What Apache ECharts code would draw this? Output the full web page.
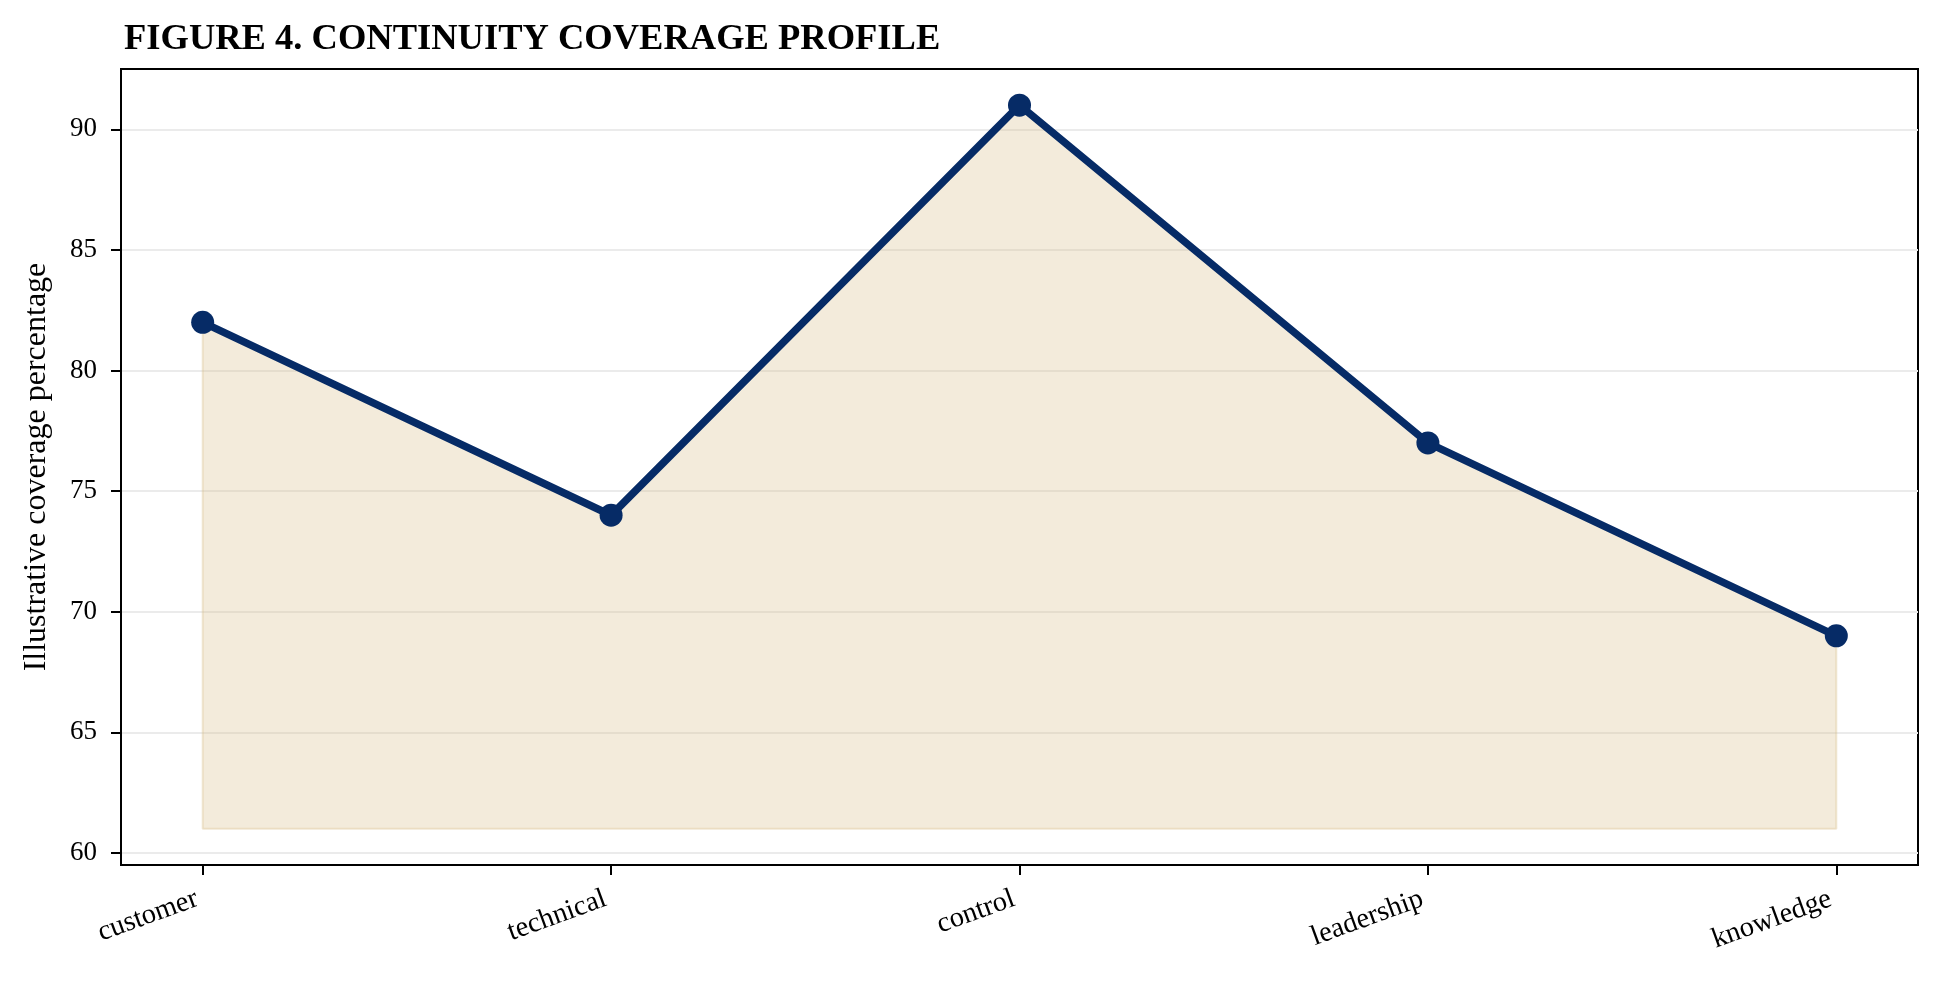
<!DOCTYPE html>
<html lang="en">
<head>
    <meta charset="UTF-8">
    <title>Figure 4. Continuity coverage profile</title>
    <script src="https://cdn.jsdelivr.net/npm/echarts@6/dist/echarts.min.js"></script>
    <style>
        html, body { margin: 0; padding: 0; background: #fff; }
        #main_1 { width: 1940px; height: 983px; }
    </style>
</head>
<body>
<div id="main_1"></div>
<script>
    // chart data
    var categories = ['customer', 'technical', 'control', 'leadership', 'knowledge'];
    var coverage = [82, 74, 91, 77, 69];
    var fillBase = 61;
    var yTicks = [60, 65, 70, 75, 80, 85, 90];
    var xTicks = [0, 1, 2, 3, 4];

    var font = '"Liberation Serif", "Times New Roman", serif';

    var points = [];
    coverage.forEach(function (v, i) {
        points.push([i, v]);
    });

    // outline of the shaded band (sides + baseline), like fill_between's edge
    var last = coverage.length - 1;
    var fillEdge = [
        [0, coverage[0]],
        [0, fillBase],
        [last, fillBase],
        [last, coverage[last]]
    ];

    var myChart = echarts.init(document.getElementById('main_1'));

    var option = {
        animation: false,
        backgroundColor: '#fff',
        title: {
            text: 'FIGURE 4. CONTINUITY COVERAGE PROFILE',
            left: 119,
            top: 16,
            textStyle: {
                fontFamily: font,
                fontWeight: 'bold',
                fontSize: 36.5,
                color: '#000'
            }
        },
        grid: {
            left: 121,
            right: 22,
            top: 69,
            bottom: 118,
            show: true,
            borderColor: '#000',
            borderWidth: 2,
            backgroundColor: 'transparent'
        },
        xAxis: {
            type: 'value',
            min: -0.2,
            max: 4.2,
            splitLine: { show: false },
            axisLine: { show: true, onZero: false, lineStyle: { color: '#000', width: 2 } },
            axisTick: {
                show: true,
                length: 10,
                customValues: xTicks,
                lineStyle: { color: '#000', width: 2 }
            },
            axisLabel: {
                customValues: xTicks,
                rotate: 20,
                margin: 31,
                padding: [0, 6, 0, 0],
                fontFamily: font,
                fontSize: 28.5,
                color: '#000',
                formatter: function (v) { return categories[v]; }
            }
        },
        yAxis: {
            type: 'value',
            min: 59.5,
            max: 92.5,
            name: 'Illustrative coverage percentage',
            nameLocation: 'middle',
            nameGap: 68,
            nameTextStyle: {
                fontFamily: font,
                fontSize: 32,
                color: '#000'
            },
            axisLine: { show: true, onZero: false, lineStyle: { color: '#000', width: 2 } },
            axisTick: {
                show: true,
                length: 10,
                customValues: yTicks,
                lineStyle: { color: '#000', width: 2 }
            },
            axisLabel: {
                customValues: yTicks,
                margin: 24,
                fontFamily: font,
                fontSize: 27,
                color: '#000'
            },
            splitLine: {
                show: true,
                lineStyle: { color: '#ebebeb', width: 2 }
            }
        },
        series: [
            {
                name: 'edge',
                type: 'line',
                data: fillEdge,
                symbol: 'none',
                silent: true,
                lineStyle: { color: 'rgba(215, 190, 135, 0.35)', width: 2 },
                z: 2
            },
            {
                name: 'coverage',
                type: 'line',
                data: points,
                symbol: 'circle',
                symbolSize: 23,
                lineStyle: { color: '#062b66', width: 7.5 },
                itemStyle: { color: '#062b66' },
                areaStyle: {
                    origin: fillBase,
                    color: 'rgba(215, 190, 135, 0.3)',
                    opacity: 1
                },
                z: 3
            }
        ]
    };

    myChart.setOption(option);
</script>
</body>
</html>
